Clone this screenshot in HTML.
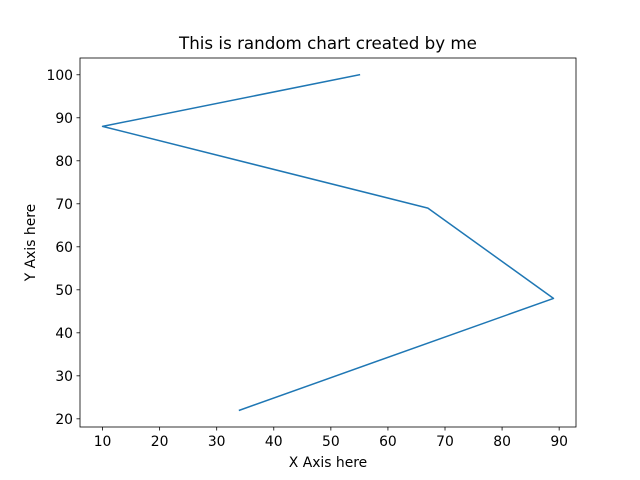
<!DOCTYPE html>
<html><head><meta charset="utf-8"><style>
body{margin:0;background:#fff}
svg{display:block;font-family:"DejaVu Sans","Liberation Sans",sans-serif}
</style></head><body>
<svg id="chart" width="640" height="480"></svg>
<script>
const xValues = [55, 10, 67, 89, 34];
const yValues = [100, 88, 69, 48, 22];
const xTicks = [10, 20, 30, 40, 50, 60, 70, 80, 90];
const yTicks = [20, 30, 40, 50, 60, 70, 80, 90, 100];

const L=80,R=576,T=58,B=427;
const xmin=Math.min(...xValues),xmax=Math.max(...xValues);
const ymin=Math.min(...yValues),ymax=Math.max(...yValues);
const xpad=(xmax-xmin)*0.05,ypad=(ymax-ymin)*0.05;
const x0=xmin-xpad,x1=xmax+xpad,y0=ymin-ypad,y1=ymax+ypad;
const sx=v=>L+(v-x0)/(x1-x0)*(R-L);
const sy=v=>B-(v-y0)/(y1-y0)*(B-T);
const NS="http://www.w3.org/2000/svg";
const svg=document.getElementById('chart');
function mk(tag,attrs,parent){const e=document.createElementNS(NS,tag);for(const k in attrs)e.setAttribute(k,attrs[k]);(parent||svg).appendChild(e);return e;}

const title=mk('text',{x:(L+R)/2,y:49,'text-anchor':'middle','font-size':16.7,fill:'#000'});


title.textContent='This is random chart created by me';

const pts=xValues.map((v,i)=>sx(v).toFixed(2)+','+sy(yValues[i]).toFixed(2)).join(' ');
const line=mk('polyline',{points:pts,fill:'none',stroke:'#1f77b4','stroke-width':1.5,'stroke-linejoin':'round','stroke-linecap':'square'});



const frame=mk('rect',{x:L,y:T,width:R-L,height:B-T,fill:'none',stroke:'#000','stroke-width':0.8});



xTicks.forEach(t=>{
  const g=mk('g',{});
  
  
  mk('line',{x1:sx(t),x2:sx(t),y1:B,y2:B+3.5,stroke:'#000','stroke-width':0.8},g);
  const tx=mk('text',{x:sx(t),y:B+19,'text-anchor':'middle','font-size':13.9,fill:'#000'},g);
  tx.textContent=t;
});
yTicks.forEach(t=>{
  const g=mk('g',{});
  
  
  mk('line',{x1:L-3.5,x2:L,y1:sy(t),y2:sy(t),stroke:'#000','stroke-width':0.8},g);
  const tx=mk('text',{x:L-7,y:sy(t)+5,'text-anchor':'end','font-size':13.9,fill:'#000'},g);
  tx.textContent=t;
});

const xl=mk('text',{x:(L+R)/2,y:467,'text-anchor':'middle','font-size':13.9,fill:'#000'});


xl.textContent='X Axis here';
const yl=mk('text',{x:0,y:0,'text-anchor':'middle','font-size':13.9,fill:'#000',transform:`translate(35,${(T+B)/2}) rotate(-90)`});


yl.textContent='Y Axis here';
</script>
</body></html>
